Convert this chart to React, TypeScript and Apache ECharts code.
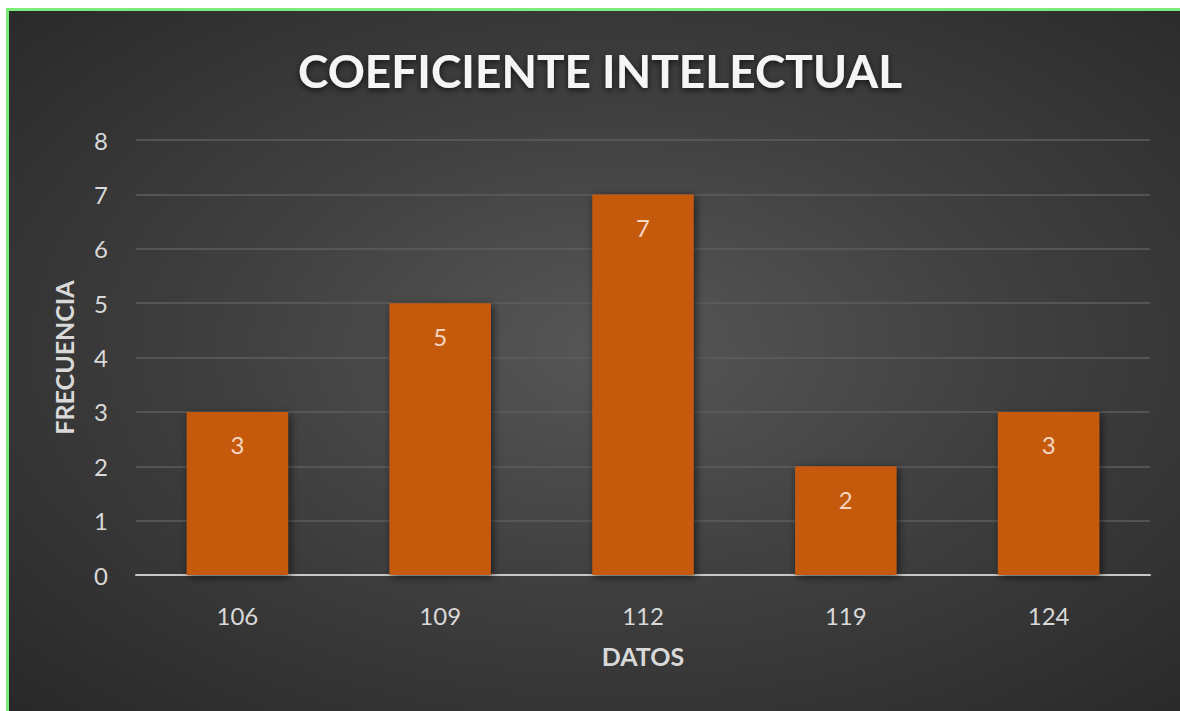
import React, { useEffect, useRef } from "react";
import * as echarts from "echarts";

const categories = ["106", "109", "112", "119", "124"];
const frequencies = [3, 5, 7, 2, 3];
const titleText = "COEFICIENTE INTELECTUAL";
const xName = "DATOS";
const yName = "FRECUENCIA";

export default function App() {
  const ref = useRef<HTMLDivElement>(null);
  useEffect(() => {
    if (!ref.current) return;
    const chart = echarts.init(ref.current, undefined, { renderer: "svg" });
    chart.setOption({
      animation: false,
      backgroundColor: "transparent",
      title: {
        text: titleText,
        left: 595,
        textAlign: "center",
        top: 42,
        textStyle: {
          fontFamily: "Lato",
          fontWeight: "bold",
          fontSize: 46,
          color: "#f5f5f5",
          textShadowColor: "rgba(0,0,0,0.7)",
          textShadowBlur: 6,
          textShadowOffsetY: 2,
        },
      },
      grid: { left: 136, right: 30, top: 140, bottom: 136, containLabel: false },
      xAxis: {
        type: "category",
        data: categories,
        name: xName,
        nameLocation: "middle",
        nameGap: 68,
        nameTextStyle: { fontFamily: "Lato", fontWeight: "bold", fontSize: 25, color: "#d9d9d9" },
        axisLine: { lineStyle: { color: "#c8c8c8", width: 2 } },
        axisTick: { show: false },
        axisLabel: { fontFamily: "Lato", fontSize: 24, color: "#d9d9d9", margin: 28 },
      },
      yAxis: {
        type: "value",
        min: 0,
        max: 8,
        interval: 1,
        name: yName,
        nameLocation: "middle",
        nameRotate: 90,
        nameGap: 60,
        nameTextStyle: { fontFamily: "Lato", fontWeight: "bold", fontSize: 25, color: "#d9d9d9" },
        axisLine: { show: false },
        axisTick: { show: false },
        axisLabel: { fontFamily: "Lato", fontSize: 24, color: "#d9d9d9", margin: 28 },
        splitLine: { lineStyle: { color: "#5e5e5e", width: 1.5 } },
      },
      series: [
        {
          type: "bar",
          data: frequencies,
          barWidth: "50%",
          itemStyle: {
            color: "#C55A11",
            shadowColor: "rgba(0,0,0,0.6)",
            shadowBlur: 8,
            shadowOffsetX: 2,
            shadowOffsetY: 2,
          },
          label: {
            show: true,
            position: "insideTop",
            distance: 21,
            fontFamily: "Lato",
            fontSize: 24,
            color: "#F4D6C1",
          },
        },
      ],
    });
    return () => chart.dispose();
  }, []);

  return (
    <div style={{ position: "fixed", left: 0, top: 0, width: 1180, height: 711, background: "#ffffff", overflow: "hidden" }}>
      <div
        style={{
          position: "absolute",
          left: 6,
          top: 8,
          right: 0,
          bottom: 0,
          borderLeft: "3px solid #79EC79",
          borderTop: "3px solid #79EC79",
          background: "radial-gradient(ellipse at 52% 48%, #575757 0%, #404040 45%, #282828 100%)",
        }}
      />
      <div ref={ref} style={{ position: "absolute", left: 0, top: 0, width: 1180, height: 711 }} />
    </div>
  );
}
